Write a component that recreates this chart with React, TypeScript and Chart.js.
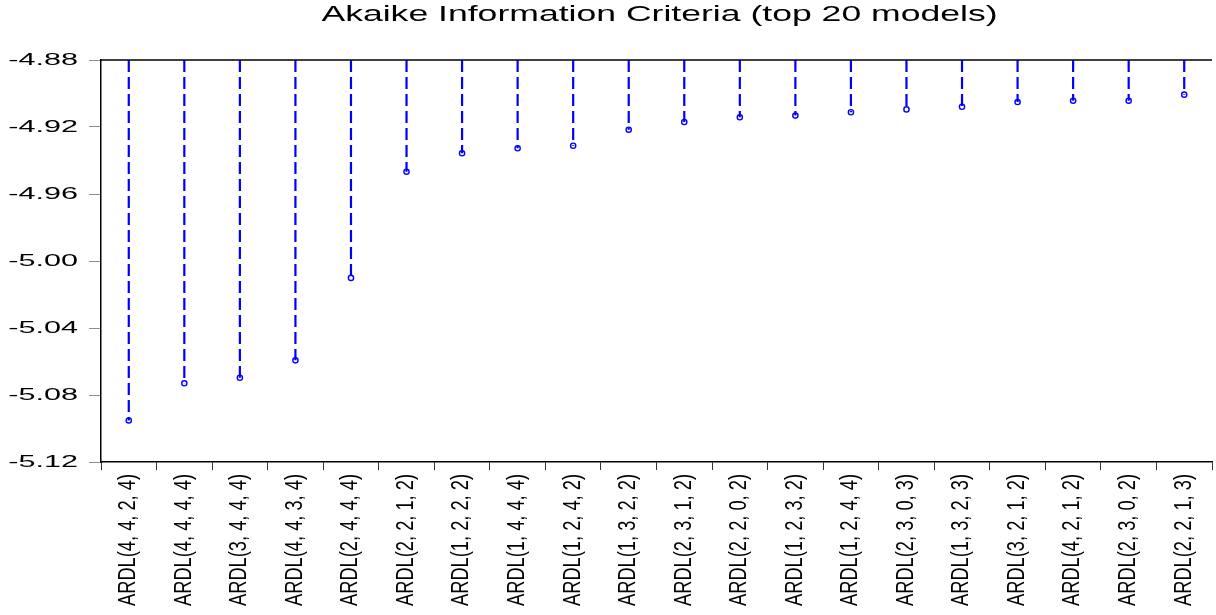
import React, { useEffect, useRef } from "react";
import { Chart, registerables } from "chart.js";

Chart.register(...registerables);

// ---------- data ----------
const MODEL_LABELS: string[] = [
  "ARDL(4, 4, 2, 4)",
  "ARDL(4, 4, 4, 4)",
  "ARDL(3, 4, 4, 4)",
  "ARDL(4, 4, 3, 4)",
  "ARDL(2, 4, 4, 4)",
  "ARDL(2, 2, 1, 2)",
  "ARDL(1, 2, 2, 2)",
  "ARDL(1, 4, 4, 4)",
  "ARDL(1, 2, 4, 2)",
  "ARDL(1, 3, 2, 2)",
  "ARDL(2, 3, 1, 2)",
  "ARDL(2, 2, 0, 2)",
  "ARDL(1, 2, 3, 2)",
  "ARDL(1, 2, 4, 4)",
  "ARDL(2, 3, 0, 3)",
  "ARDL(1, 3, 2, 3)",
  "ARDL(3, 2, 1, 2)",
  "ARDL(4, 2, 1, 2)",
  "ARDL(2, 3, 0, 2)",
  "ARDL(2, 2, 1, 3)",
];

const AIC_VALUES: number[] = [
  -5.0952, -5.073, -5.0697, -5.0593, -5.0101, -4.9467, -4.9357, -4.9327,
  -4.9312, -4.9216, -4.917, -4.9142, -4.9132, -4.9112, -4.9095, -4.9079,
  -4.9051, -4.9043, -4.9043, -4.9007,
];

const Y_MIN = -5.12;
const Y_MAX = -4.88;
const Y_STEP = 0.04;
const STEM_TOP = Y_MAX;

const TITLE = "Akaike Information Criteria (top 20 models)";

// ---------- style ----------
const BLUE = "rgb(0,0,255)";
const FONT = "'Liberation Sans', Arial, sans-serif";
const X_FONT_SIZE = 23;
const X_LABEL_LEN = 132; // on-screen length of a rotated category label
const Y_LABEL_STRETCH = 1.8;
const TITLE_STRETCH = 1.617;
const TITLE_SHIFT = 3;
const Y_TICK_LEN = 12;
const Y_TICK_PAD = 11;
const X_TICK_LEN = 8;
const X_TICK_PAD = 4;

const stemPoints = MODEL_LABELS.flatMap((lab, i) => [
  { x: lab, y: STEM_TOP },
  { x: lab, y: AIC_VALUES[i] },
  { x: lab, y: null as any },
]);

function wrapScaleLabels(scale: any, before: (ctx: CanvasRenderingContext2D, s: any) => void) {
  if (!scale || scale.__wrapped) return;
  const orig = Object.getPrototypeOf(scale).drawLabels;
  // the label clip box would be distorted by the transform below
  scale._computeLabelArea = () => undefined;
  scale.drawLabels = function (area: any) {
    const ctx = this.ctx;
    ctx.save();
    before(ctx, this);
    orig.call(this, area);
    ctx.restore();
  };
  scale.__wrapped = true;
}

const stretchPlugin = {
  id: "stretchText",
  beforeDraw(chart: any) {
    wrapScaleLabels(chart.scales.y, (ctx, s) => {
      const ax = s.right - Y_TICK_LEN - Y_TICK_PAD;
      ctx.translate(ax, 0);
      ctx.scale(Y_LABEL_STRETCH, 1);
      ctx.translate(-ax, 0);
    });
    wrapScaleLabels(chart.scales.x, (ctx, s) => {
      ctx.font = `${X_FONT_SIZE}px ${FONT}`;
      let w = 1;
      for (const l of MODEL_LABELS) w = Math.max(w, ctx.measureText(l).width);
      const k = X_LABEL_LEN / w;
      const ay = s.top + X_TICK_LEN + X_TICK_PAD;
      ctx.translate(0, ay);
      ctx.scale(1, k);
      ctx.translate(0, -ay);
    });
    const tb = chart.titleBlock;
    if (tb && !tb.__stretched) {
      const origT = tb.draw;
      tb.draw = function (area: any) {
        const ctx = this.ctx;
        const cx = (this.left + this.right) / 2;
        ctx.save();
        ctx.translate(cx + TITLE_SHIFT, 0);
        ctx.scale(TITLE_STRETCH, 1);
        ctx.translate(-cx, 0);
        origT.call(this, area);
        ctx.restore();
      };
      tb.__stretched = true;
    }
  },
};

const topBorderPlugin = {
  id: "topBorder",
  afterDatasetsDraw(chart: any) {
    const { ctx, chartArea } = chart;
    ctx.save();
    ctx.strokeStyle = "#000";
    ctx.lineWidth = 1.5;
    ctx.beginPath();
    ctx.moveTo(chartArea.left, chartArea.top);
    ctx.lineTo(chartArea.right, chartArea.top);
    ctx.stroke();
    ctx.restore();
  },
};

export default function App() {
  const canvasRef = useRef<HTMLCanvasElement | null>(null);

  useEffect(() => {
    if (!canvasRef.current) return;
    const chart = new Chart(canvasRef.current, {
      type: "line",
      data: {
        labels: MODEL_LABELS,
        datasets: [
          {
            label: "stems",
            data: stemPoints as any,
            borderColor: BLUE,
            borderWidth: 2.2,
            borderDash: [12, 5],
            pointRadius: 0,
            pointHoverRadius: 0,
            spanGaps: false,
            fill: false,
          },
          {
            label: "AIC",
            data: AIC_VALUES,
            showLine: false,
            pointRadius: 2.6,
            pointHoverRadius: 2.6,
            pointBorderWidth: 1.4,
            pointBorderColor: BLUE,
            pointBackgroundColor: "#ffffff",
          },
        ],
      },
      options: {
        animation: false,
        responsive: false,
        layout: { padding: 0 },
        plugins: {
          legend: { display: false },
          tooltip: { enabled: false },
          title: {
            display: true,
            text: TITLE,
            fullSize: false,
            color: "#000",
            font: { family: FONT, size: 22, weight: "normal" as any },
            padding: { top: 2, bottom: 31.6 },
          },
        },
        scales: {
          x: {
            type: "category",
            offset: true,
            grid: {
              display: true,
              drawOnChartArea: false,
              drawTicks: true,
              tickLength: X_TICK_LEN,
              color: "#333",
              offset: true,
            },
            border: { display: true, color: "#000", width: 1.5 },
            ticks: {
              autoSkip: false,
              maxRotation: 90,
              minRotation: 90,
              padding: X_TICK_PAD,
              color: "#000",
              font: { family: FONT, size: X_FONT_SIZE },
            },
            afterFit(scale: any) {
              scale.height = 153;
            },
          },
          y: {
            type: "linear",
            min: Y_MIN,
            max: Y_MAX,
            grid: {
              display: true,
              drawOnChartArea: false,
              drawTicks: true,
              tickLength: Y_TICK_LEN,
              color: "#8c8c8c",
            },
            border: { display: true, color: "#000", width: 1.5 },
            ticks: {
              stepSize: Y_STEP,
              padding: Y_TICK_PAD,
              color: "#000",
              font: { family: FONT, size: 17 },
              callback: (v: any) => Number(v).toFixed(2),
            },
            afterFit(scale: any) {
              scale.width = 101;
            },
          },
        },
      },
      plugins: [stretchPlugin, topBorderPlugin],
    });
    return () => chart.destroy();
  }, []);

  return (
    <div style={{ position: "absolute", left: 0, top: 0, width: 1216, height: 615, background: "#fff" }}>
      <canvas ref={canvasRef} width={1216} height={615} style={{ display: "block" }} />
    </div>
  );
}
